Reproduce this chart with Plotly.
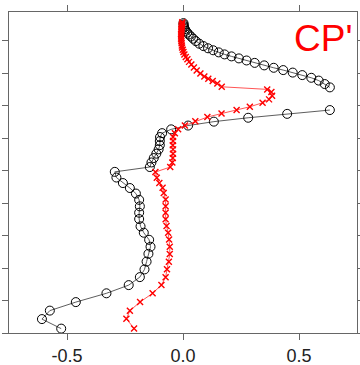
import plotly.graph_objects as go

# Black series (open circles), bottom to top; None = gap
black_x = [-0.525, -0.608, -0.574, -0.462, -0.330, -0.234, -0.186, -0.166, -0.157, -0.149,
           -0.140, -0.146, -0.169, -0.183, -0.189, -0.189, -0.186, -0.189, -0.203, -0.229,
           -0.259, -0.287, -0.294, -0.143, -0.136, -0.126, -0.115, -0.105, -0.100, -0.100,
           -0.099, -0.090, -0.051, 0.022, 0.133, 0.281, 0.449, 0.633, None,
           0.633, 0.611, 0.585, 0.553, 0.514, 0.473, 0.432, 0.391, 0.350, 0.309,
           0.274, 0.241, 0.209, 0.179, 0.154, 0.130, 0.108, 0.088, 0.070, 0.055,
           0.044, 0.034, 0.025, 0.018, 0.012, 0.008, 0.005, 0.003, 0.003, 0.002]
black_y = [0.135, 0.428, 0.689, 0.951, 1.222, 1.474, 1.720, 1.957, 2.197, 2.437,
           2.655, 2.868, 3.086, 3.283, 3.508, 3.702, 3.898, 4.098, 4.292, 4.462,
           4.615, 4.785, 4.960, 5.108, 5.249, 5.385, 5.520, 5.652, 5.782, 5.908,
           6.031, 6.151, 6.268, 6.385, 6.505, 6.625, 6.745, 6.862, None,
           7.560, 7.662, 7.769, 7.855, 7.938, 8.015, 8.092, 8.163, 8.237, 8.314,
           8.388, 8.452, 8.514, 8.575, 8.637, 8.702, 8.763, 8.831, 8.905, 8.985,
           9.058, 9.126, 9.188, 9.246, 9.302, 9.354, 9.403, 9.449, 9.495, 9.538]

# Red series (x markers), bottom to top
red_x = [-0.211, -0.244, -0.229, -0.185, -0.131, -0.093, -0.075, -0.069, -0.061, -0.057,
         -0.057, -0.060, -0.064, -0.071, -0.075, -0.075, -0.075, -0.075, -0.083, -0.088,
         -0.102, -0.113, -0.119, -0.055, -0.046, -0.044, -0.043, -0.043, -0.044, -0.043,
         -0.043, -0.035, -0.021, 0.008, 0.053, 0.105, 0.166, 0.231, 0.288, 0.343,
         0.371, 0.384, 0.381, 0.363, 0.167, 0.148, 0.128, 0.109, 0.092, 0.075,
         0.059, 0.047, 0.036, 0.026, 0.019, 0.012, 0.006, 0.002, -0.001, -0.004,
         -0.005, -0.006, -0.007, -0.008, -0.008, -0.008, -0.008, -0.007, -0.007, -0.007,
         -0.006, -0.006, -0.005, -0.004, -0.003]
red_y = [0.142, 0.437, 0.686, 0.954, 1.222, 1.477, 1.714, 1.960, 2.194, 2.431,
         2.655, 2.877, 3.086, 3.292, 3.498, 3.702, 3.902, 4.108, 4.308, 4.468,
         4.615, 4.775, 4.954, 5.108, 5.249, 5.385, 5.520, 5.652, 5.782, 5.908,
         6.031, 6.151, 6.268, 6.385, 6.514, 6.646, 6.754, 6.862, 6.963, 7.086,
         7.191, 7.302, 7.415, 7.498, 7.578, 7.677, 7.754, 7.825, 7.898, 7.985,
         8.077, 8.169, 8.262, 8.345, 8.425, 8.498, 8.572, 8.646, 8.717, 8.785,
         8.852, 8.917, 8.978, 9.040, 9.098, 9.154, 9.206, 9.258, 9.308, 9.354,
         9.400, 9.443, 9.486, 9.526, 9.563]

x_ticks = [-0.5, 0.0, 0.5]
x_tick_text = ["-0.5", "0.0", "0.5"]
y_ticks = [0, 1, 2, 3, 4, 5, 6, 7, 8, 9]
panel_label = "CP'"

fig = go.Figure()
fig.add_trace(go.Scatter(
    x=black_x, y=black_y, mode="lines+markers", connectgaps=False,
    line=dict(color="#333333", width=0.8),
    marker=dict(symbol="circle-open", size=9, color="black", line=dict(width=1, color="black")),
    showlegend=False))
fig.add_trace(go.Scatter(
    x=red_x, y=red_y, mode="lines+markers",
    line=dict(color="#ff2a2a", width=0.8),
    marker=dict(symbol="x-thin-open", size=6, color="#ff0000", line=dict(width=1.4, color="#ff0000")),
    showlegend=False))

fig.add_annotation(text=panel_label, xref="paper", yref="paper", x=1.0, y=1.0,
                   xanchor="right", yanchor="top", showarrow=False,
                   xshift=-3, yshift=-4,
                   font=dict(family="Liberation Sans, Arial", size=37, color="#ff0000"))

axis_common = dict(showline=True, linecolor="#666666", linewidth=1.3, mirror="ticks",
                   ticks="outside", ticklen=6, tickwidth=1.3, tickcolor="#666666",
                   showgrid=False, zeroline=False, automargin=False)
fig.update_xaxes(range=[-0.75, 0.75], tickvals=x_ticks, ticktext=x_tick_text,
                 tickfont=dict(family="Liberation Sans, Arial", size=18, color="#222222"),
                 **axis_common)
fig.update_yaxes(range=[0, 9.88], tickvals=y_ticks, showticklabels=False, **axis_common)

fig.update_layout(width=360, height=365, margin=dict(l=9, r=3, t=12, b=32),
                  plot_bgcolor="white", paper_bgcolor="white")
fig.write_html("out.html")
